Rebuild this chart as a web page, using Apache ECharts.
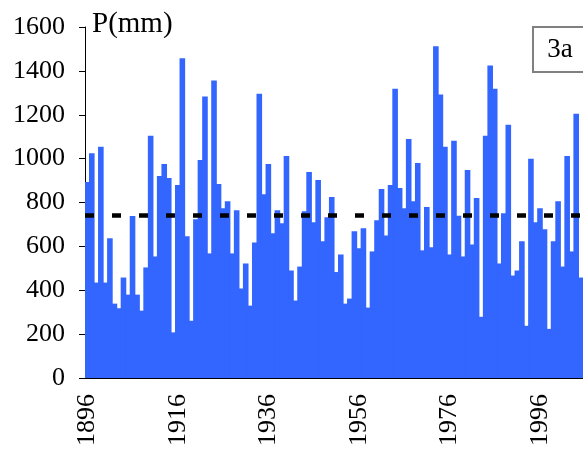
<!DOCTYPE html>
<html>
<head>
<meta charset="utf-8">
<script src="https://cdn.jsdelivr.net/npm/echarts@6/dist/echarts.min.js"></script>
<style>
  html, body {margin: 0; padding: 0; background: #fff;}
  #chart {width: 583px; height: 449px;}
</style>
</head>
<body>
<div id="chart"></div>
<script>
// years 1896..2005, one bar per year
const firstYear = 1896;
const precip = [
  893, 1025, 435, 1054, 435, 637, 339, 318, 458, 380,
  738, 380, 307, 504, 1104, 554, 921, 976, 912, 208,
  880, 1457, 646, 261, 724, 994, 1283, 568, 1356, 884,
  774, 806, 568, 765, 408, 522, 330, 618, 1296, 838,
  976, 660, 765, 705, 1012, 490, 353, 508, 760, 939,
  710, 902, 623, 733, 825, 483, 563, 339, 362, 669,
  591, 683, 321, 577, 719, 861, 650, 880, 1319, 866,
  774, 1090, 806, 980, 582, 779, 596, 1512, 1292, 1054,
  563, 1081, 740, 554, 948, 609, 820, 279, 1104, 1425,
  1319, 522, 751, 1154, 467, 490, 623, 238, 999, 710,
  774, 678, 224, 623, 806, 508, 1012, 577, 1205, 458
];
const years = precip.map((_, i) => String(firstYear + i));
const meanValue = 740;
const yTicks = {min: 0, max: 1600, step: 200};
const panelLabel = '3a';
const unitLabel = 'P(mm)';

const font = 'Liberation Serif, Times New Roman, serif';

const myChart = echarts.init(document.getElementById('chart'));
myChart.setOption({
  animation: false,
  grid: {left: 85, right: 0, top: 27, bottom: 69},
  xAxis: {
    type: 'category',
    data: years,
    boundaryGap: true,
    axisLine: {lineStyle: {color: '#000', width: 1}},
    axisTick: {
      length: 8,
      lineStyle: {color: '#000'},
      interval: (i) => i % 10 === 0
    },
    axisLabel: {
      interval: (i) => i % 20 === 0,
      rotate: 90,
      margin: 16,
      color: '#000',
      fontFamily: font,
      fontSize: 26
    },
    splitLine: {show: false}
  },
  yAxis: {
    type: 'value',
    min: yTicks.min,
    max: yTicks.max,
    interval: yTicks.step,
    axisLine: {show: true, lineStyle: {color: '#000', width: 1}},
    axisTick: {show: true, length: 6, lineStyle: {color: '#000'}},
    axisLabel: {
      margin: 20,
      color: '#000',
      fontFamily: font,
      fontSize: 26,
      formatter: (v) => String(v)
    },
    splitLine: {show: false}
  },
  series: [{
    type: 'bar',
    data: precip,
    barWidth: 5.6,
    itemStyle: {color: '#3366ff'},
    markLine: {
      silent: true,
      symbol: 'none',
      label: {show: false},
      lineStyle: {color: '#000', width: 4.5, type: [9, 18]},
      data: [{yAxis: meanValue}]
    }
  }],
  graphic: [
    {
      type: 'text',
      left: 92,
      top: 10,
      style: {text: unitLabel, font: '29px ' + font, fill: '#000'}
    },
    {
      type: 'rect',
      shape: {x: 533, y: 27, width: 60, height: 45},
      style: {fill: '#fff', stroke: '#808080', lineWidth: 2},
      z: 10
    },
    {
      type: 'text',
      x: 560,
      y: 50,
      style: {
        text: panelLabel, font: '27px ' + font, fill: '#000',
        align: 'center', verticalAlign: 'middle'
      },
      z: 11
    }
  ]
});
</script>
</body>
</html>
